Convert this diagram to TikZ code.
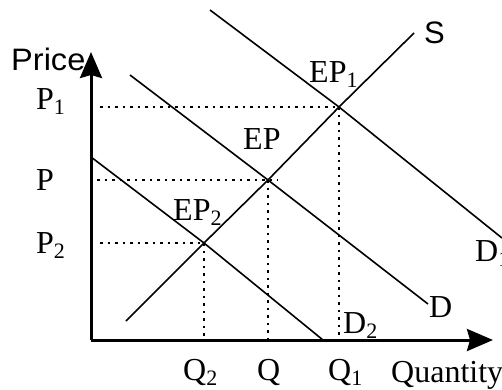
\documentclass[tikz,border=0pt]{standalone}
\usepackage{fontspec}
\setmainfont{Liberation Serif}
\newfontfamily\sansf{Liberation Sans}
\usetikzlibrary{arrows.meta}
\newcommand\lowsub[1]{\raisebox{-0.35ex}{\fontsize{22}{22}\selectfont #1}}
\begin{document}
\begin{tikzpicture}[x=1pt,y=-1pt,
  lbl/.style={font=\fontsize{32}{32}\selectfont, inner sep=0pt, anchor=base west},
  slbl/.style={font=\sansf\fontsize{31}{31}\selectfont, inner sep=0pt, anchor=base west},
  axisline/.style={line width=3pt, -{Stealth[length=26pt,width=22pt,inset=3pt]}},
  curve/.style={line width=1.6pt},
  guide/.style={line width=2pt, dash pattern=on 2.5pt off 5pt}]
\useasboundingbox (0,0) rectangle (502,389);
% axes
\coordinate (O) at (91,340);
\coordinate (ytip) at (91,52);
\coordinate (xtip) at (493,340);
\draw[axisline] (O) -- (ytip);
\draw[axisline] (O) -- (xtip);
% equilibrium points
\coordinate (E2) at (204,243);
\coordinate (E) at (268,180);
\coordinate (E1) at (339,107);
% curve ends
\coordinate (Sa) at (126,321);
\coordinate (Sb) at (414,33);
\coordinate (Da) at (130,75);
\coordinate (Db) at (428,304);
\coordinate (D1a) at (210,10);
\coordinate (D1b) at (502,238);
\coordinate (D2a) at (91,157);
\coordinate (D2b) at (323,340);
\draw[curve] (Sa) -- (E2) -- (E) -- (E1) -- (Sb);
\draw[curve] (Da) -- (E) -- (Db);
\draw[curve] (D1a) -- (E1) -- (D1b);
\draw[curve] (D2a) -- (E2) -- (D2b);
% guide lines
\coordinate (P1a) at (100,107);
\coordinate (Pa) at (97,180);
\coordinate (Pb) at (278,180);
\coordinate (P2a) at (100,243);
\coordinate (Q2a) at (204,340);
\coordinate (Qa) at (268,340);
\coordinate (Q1a) at (339,340);
\draw[guide] (P1a) -- (E1);
\draw[guide] (Pa) -- (Pb);
\draw[guide] (P2a) -- (E2);
\draw[guide] (E2) -- (Q2a);
\draw[guide] (E) -- (Qa);
\draw[guide] (E1) -- (Q1a);
% labels
\node[slbl] (price) at (11,70) {\scalebox{1.05}[1]{Price}};
\node[slbl] (slab) at (424,43) {S};
\node[lbl] (p1) at (36,109) {P\lowsub{1}};
\node[lbl] (p) at (36,190) {P};
\node[lbl] (p2) at (36,253) {P\lowsub{2}};
\node[lbl] (q2) at (183,380) {Q\lowsub{2}};
\node[lbl] (q) at (257,380) {Q};
\node[lbl] (q1) at (328,380) {Q\lowsub{1}};
\node[lbl] (qty) at (391,382) {Quantity};
\node[lbl] (ep1) at (309,82) {EP\lowsub{1}};
\node[lbl] (ep) at (243,149) {EP};
\node[lbl] (ep2) at (173,220) {EP\lowsub{2}};
\node[lbl] (d2) at (343,333) {D\lowsub{2}};
\node[lbl] (d) at (429,317) {D};
\node[lbl] (d1) at (475,261) {D\lowsub{1}};
\end{tikzpicture}
\end{document}
